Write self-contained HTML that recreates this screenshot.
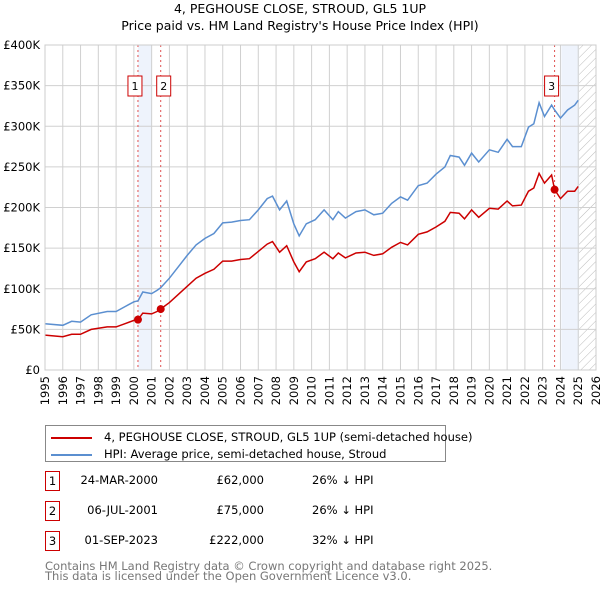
<!DOCTYPE html>
<html><head><meta charset="utf-8">
<style>
body{margin:0;background:#fff;font-family:"DejaVu Sans","Liberation Sans",sans-serif;}
#wrap{position:relative;width:600px;height:590px;overflow:hidden;}
svg text{font-family:"DejaVu Sans","Liberation Sans",sans-serif;}
</style></head>
<body>
<div id="wrap">
<svg id="chart" width="600" height="590">
<text x="300" y="13" text-anchor="middle" font-size="12.5">4, PEGHOUSE CLOSE, STROUD, GL5 1UP</text>
<text x="300" y="30" text-anchor="middle" font-size="12.5">Price paid vs. HM Land Registry's House Price Index (HPI)</text>
<g id="grid"></g><g id="marks"></g>
</svg>
<div style="position:absolute;left:45px;top:425px;width:399px;height:35px;border:1px solid #888;font-size:11.5px;">
 <div style="position:absolute;left:5px;top:4px;white-space:nowrap"><span style="display:inline-block;width:41px;height:2px;background:#cc0000;vertical-align:middle;margin-right:12px"></span>4, PEGHOUSE CLOSE, STROUD, GL5 1UP (semi-detached house)</div>
 <div style="position:absolute;left:5px;top:21px;white-space:nowrap"><span style="display:inline-block;width:41px;height:2px;background:#5b8fd0;vertical-align:middle;margin-right:12px"></span>HPI: Average price, semi-detached house, Stroud</div>
</div>
<div id="table" style="font-size:11.5px"></div>
<div style="position:absolute;left:45px;top:561px;font-size:11.5px;color:#777;line-height:10px">Contains HM Land Registry data © Crown copyright and database right 2025.<br>This data is licensed under the Open Government Licence v3.0.</div>
</div>
<script>
const years=[1995,1996,1996.5,1997,1997.6,1998.5,1999,1999.5,2000,2000.23,2000.5,2001,2001.3,2001.5,2002,2002.5,2003,2003.5,2004,2004.5,2005,2005.5,2006,2006.5,2007,2007.5,2007.8,2008.2,2008.6,2009,2009.3,2009.7,2010.2,2010.7,2011.2,2011.5,2011.9,2012.5,2013,2013.5,2014,2014.5,2015,2015.4,2016,2016.5,2017,2017.5,2017.8,2018.3,2018.6,2019,2019.4,2020,2020.5,2021,2021.3,2021.8,2022.2,2022.5,2022.8,2023.1,2023.5,2023.67,2024,2024.4,2024.8,2025];
const hpi=[57,55,60,59,68,72,72,78,84,85,96,94,98,101,113,127,141,154,162,168,181,182,184,185,197,211,214,197,208,180,165,180,185,197,185,195,187,195,197,191,193,205,213,209,227,230,241,250,264,262,252,267,256,271,268,284,275,275,299,303,329,312,326,320,310,320,326,332];
const price=[43,41,44,44,50,53,53,57,61,62,70,69,72,75,83,93,103,113,119,124,134,134,136,137,146,155,158,145,153,133,121,133,137,145,137,144,138,144,145,141,143,151,157,154,167,170,176,183,194,193,186,197,188,199,198,208,202,203,220,224,242,230,240,222,211,220,220,226];
const saleYears=[2000.23,2001.51,2023.67];
const salePrices=[62,75,222];
const saleLabels=["1","2","3"];
const saleDates=["24-MAR-2000","06-JUL-2001","01-SEP-2023"];
const salePriceText=["£62,000","£75,000","£222,000"];
const saleHpiText=["26% ↓ HPI","26% ↓ HPI","32% ↓ HPI"];
const yTicks=[0,50,100,150,200,250,300,350,400];
const yTickLabels=["£0","£50K","£100K","£150K","£200K","£250K","£300K","£350K","£400K"];
const xTicks=[1995,1996,1997,1998,1999,2000,2001,2002,2003,2004,2005,2006,2007,2008,2009,2010,2011,2012,2013,2014,2015,2016,2017,2018,2019,2020,2021,2022,2023,2024,2025,2026];

const L=45,R=596,T=45,B=370;
const x=v=>L+(v-1995)/(2026-1995)*(R-L);
const y=v=>B-v/400*(B-T);
const NS="http://www.w3.org/2000/svg";
function mk(tag,attrs,parent,name,txt){const e=document.createElementNS(NS,tag);for(const k in attrs)e.setAttribute(k,attrs[k]);


if(txt!==undefined)e.textContent=txt;parent.appendChild(e);return e;}
const g=document.getElementById('grid'),m=document.getElementById('marks');
// shaded regions
mk('rect',{x:x(saleYears[0]),y:T,width:x(2001.0)-x(saleYears[0]),height:B-T,fill:'#eef3fc'},g,'shade-sale-1-2');
mk('rect',{x:x(2024.05),y:T,width:x(2025.05)-x(2024.05),height:B-T,fill:'#eef3fc'},g,'shade-latest');
// hatch
const defs=mk('defs',{},g,'defs');
const pat=mk('pattern',{id:'hatch',width:6,height:6,patternUnits:'userSpaceOnUse',patternTransform:'rotate(45)'},defs,'hatch-pattern');
mk('line',{x1:0,y1:0,x2:0,y2:6,stroke:'#bbb','stroke-width':1},pat,'hatch-line');
mk('rect',{x:x(2025.05),y:T,width:R-x(2025.05),height:B-T,fill:'url(#hatch)'},g,'future-hatch');
xTicks.forEach(v=>{mk('line',{x1:x(v),y1:T,x2:x(v),y2:B,stroke:'#d0d0d0'},g,'x-gridline');
 mk('text',{x:0,y:0,transform:`translate(${x(v)+4},376) rotate(-90)`,'text-anchor':'end','font-size':11.5},g,'x-tick-label',String(v));});
yTicks.forEach((v,i)=>{mk('line',{x1:L,y1:y(v),x2:R,y2:y(v),stroke:'#d0d0d0'},g,'y-gridline');
 mk('text',{x:L-5,y:y(v)+4,'text-anchor':'end','font-size':11.5},g,'y-tick-label',yTickLabels[i]);});
saleYears.forEach((s,i)=>{mk('line',{x1:x(s),y1:T,x2:x(s),y2:B,stroke:'#e05050','stroke-dasharray':'2,3'},m,'sale-marker-line');
 const bx=x(s)-(i<2?8:-0)- (i==2?14:0);
 const gx=i==0?x(s)-10:(i==1?x(s)-4:x(s)-10);
 mk('rect',{x:gx,y:76,width:14,height:20,fill:'#fff',stroke:'#cc0000'},m,'sale-label-box');
 mk('text',{x:gx+7,y:90,'text-anchor':'middle','font-size':11},m,'sale-label',saleLabels[i]);});
const pts=a=>a.map((v,i)=>x(years[i]).toFixed(1)+','+y(v).toFixed(1)).join(' ');
mk('polyline',{points:pts(hpi),fill:'none',stroke:'#5b8fd0','stroke-width':1.5},m,'hpi-line');
mk('polyline',{points:pts(price),fill:'none',stroke:'#cc0000','stroke-width':1.5},m,'price-line');
saleYears.forEach((s,i)=>mk('circle',{cx:x(s),cy:y(salePrices[i]),r:4,fill:'#cc0000'},m,'sale-point'));
mk('rect',{x:L,y:T,width:R-L,height:B-T,fill:'none',stroke:'#ccc'},m,'plot-border');
const tb=document.getElementById('table');
saleDates.forEach((d,i)=>{const top=473+i*30;
 const row=document.createElement('div');
 
 
 row.style.cssText=`position:absolute;left:0;top:${top}px;width:600px;height:20px`;
 row.innerHTML=`<div style="position:absolute;left:45px;top:-2px;width:13px;height:18px;border:1px solid #cc0000;text-align:center;line-height:18px">${saleLabels[i]}</div><div style="position:absolute;right:442px;top:0">${d}</div><div style="position:absolute;right:336px;top:0">${salePriceText[i]}</div><div style="position:absolute;left:312px;top:0">${saleHpiText[i]}</div>`;
 tb.appendChild(row);});
</script>
</body></html>
